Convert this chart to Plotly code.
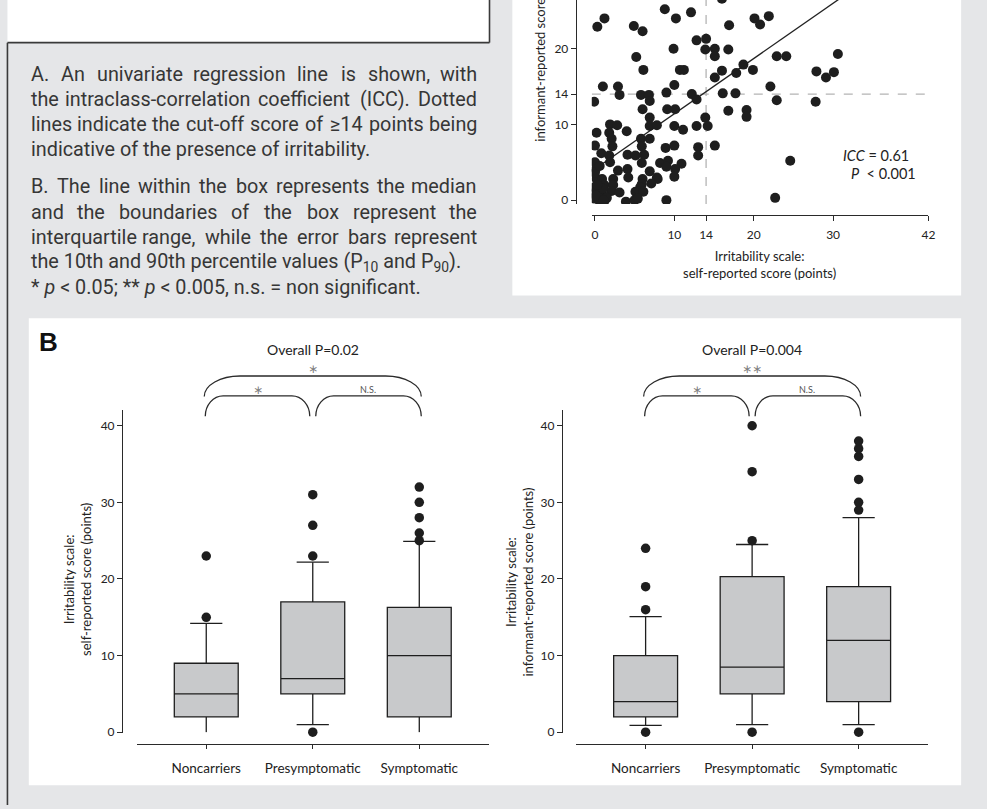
import numpy as np
import plotly.graph_objects as go

W, H = 987, 809


def px(x):
    return x / W


def py(y):
    return 1 - y / H


# ---------------- data ----------------
# Panel A: self-reported (x) vs informant-reported (y) irritability scores
self_score = [8.8, 10.2, 12.1, 16.0, 0.3, 1.2, 4.9, 6.0, 16.9, 20.1, 20.8, 21.9,
              12.8, 14.0, 9.9, 13.9, 15.1, 15.1, 16.8, 5.2, 6.1, 10.7, 11.2, 22.9,
              24.1, 30.6, 18.7, 19.9, 17.8, 16.0, 15.1, 27.9, 29.1, 30.1, 22.1,
              1.0, 2.9, 3.1, -0.1, 5.8, 6.8, 6.9, 9.0, 10.0, 12.2, 12.8, 16.1, 17.7,
              22.9, 27.8, 6.0, 9.1, 10.1, 16.8, 19.1, 19.1, 6.9, 13.9,
              1.9, 2.8, 6.9, 7.8, 10.0, 12.8, 14.2,
              0.2, 1.8, 4.0, 11.1, 2.1, 5.8, 6.9,
              0.0, 2.2, 5.9, 8.9, 10.0, 13.0, 15.1, 13.0,
              0.8, 1.8, 4.1, 5.1, 6.2,
              1.9, 0.0, 0.1, 5.9, 8.2, 9.2, 10.9, 9.0, 10.1, 24.6,
              2.9, 4.1, 6.9, 10.0, 4.2, 7.8, 7.9,
              0.2, 0.9, 2.3, 6.0, 7.1, 5.9,
              -0.1, 1.2, 2.3, 5.7,
              0.1, 0.9, 2.1, 3.1, 5.1, 5.6, 6.1,
              -0.1, 0.5, 1.2, 3.9, 5.0, 5.4, 9.0, 22.7, 0.5,
              0.0, 0.4, 1.0, 0.3, 1.5, 0.6, 0.1, 1.1]
informant_score = [25.2, 24.0, 24.8, 26.6, 22.9, 24.0, 23.0, 22.3, 23.1, 24.0, 23.2, 24.3,
                   21.1, 21.3, 20.0, 19.9, 20.0, 19.0, 19.9, 18.9, 17.2, 17.2, 17.2, 19.0,
                   19.0, 19.3, 17.9, 17.2, 16.8, 17.1, 16.2, 17.0, 16.2, 16.9, 15.0,
                   15.0, 15.0, 13.9, 13.0, 13.9, 13.9, 13.1, 14.2, 15.2, 14.0, 13.3, 14.1, 14.1,
                   13.2, 13.0, 12.0, 12.0, 12.0, 11.8, 11.9, 11.0, 10.9, 10.9,
                   10.0, 9.9, 9.8, 9.9, 9.8, 9.8, 9.8,
                   8.9, 8.9, 9.1, 9.3, 8.1, 8.1, 8.1,
                   7.2, 7.1, 7.1, 6.9, 7.2, 7.0, 7.2, 5.9,
                   6.2, 5.9, 6.0, 5.9, 6.0,
                   5.0, 5.0, 4.1, 4.9, 4.9, 5.2, 4.8, 4.4, 4.1, 5.2,
                   3.9, 4.1, 3.8, 3.1, 3.0, 3.0, 2.8,
                   2.8, 2.8, 2.8, 2.8, 2.2, 2.1,
                   1.7, 2.0, 2.0, 1.7,
                   1.1, 0.9, 1.2, 1.0, 1.1, 1.2, 1.1,
                   0.2, 0.0, -0.1, -0.2, 0.0, 0.2, 0.0, 0.3, 0.7,
                   3.6, 0.4, 1.5, 2.0, 0.3, 4.5, 0.6, 0.0]
reg_intercept = 4.1
reg_slope = 0.73
cutoff = 14
sc_xrange = [-0.4, 42]
sc_yrange = [-0.5, 26.43]
sc_xticks = [0, 10, 14, 20, 30, 42]
sc_yticks = [0, 10, 14, 20, 30, 42]

# Panel B: box plots per group
groups = ["Noncarriers", "Presymptomatic", "Symptomatic"]
self_p10 = [0, 1, 0]
self_q1 = [2, 5, 2]
self_median = [5, 7, 10]
self_q3 = [9, 17, 16.3]
self_p90 = [14.2, 22.2, 24.9]
self_outliers = [[15, 23], [0, 23, 27, 31], [25, 26, 28, 30, 32]]

inf_p10 = [0.9, 1, 1]
inf_q1 = [2, 5, 4]
inf_median = [4, 8.5, 12]
inf_q3 = [10, 20.3, 19]
inf_p90 = [15.1, 24.5, 28]
inf_outliers = [[0, 16, 19, 24], [0, 25, 34, 40], [0, 29, 30, 33, 36, 37, 38]]
box_yticks = [0, 10, 20, 30, 40]

# ---------------- styles ----------------
PAGE = "#e5e6e8"
PLOTBG = "#f0f1f3"
BOXFILL = "#c8c9cb"
INK = "#1e1e1e"
AXIS = "#2a2a2a"
CH_FONT = "Lato"
CAP_FONT = "Roboto"
CAP_SIZE = 19.8

# geometry (pixels)
SC_X, SC_Y = (596, 935), (0, 205.7)
SC_XLINE, SC_YLINE = 217, 580
BL_X, BX_Y = (138, 492), (414, 739)
BR_X = (580.5, 934.5)
BL_YLINE, BR_YLINE = 123, 566
B_XLINE = 750.7
CAT_RANGE = [-0.65, 2.65]

fig = go.Figure()

# ---- Panel A scatter ----
dash = dict(color="#b4b4b4", width=1.3, dash="dash")
fig.add_trace(go.Scatter(x=[cutoff, cutoff], y=sc_yrange, mode="lines", line=dash,
                         xaxis="x", yaxis="y", hoverinfo="skip"))
fig.add_trace(go.Scatter(x=sc_xrange, y=[cutoff, cutoff], mode="lines", line=dash,
                         xaxis="x", yaxis="y", hoverinfo="skip"))
xl = np.array([0, 42])
fig.add_trace(go.Scatter(x=xl, y=reg_intercept + reg_slope * xl, mode="lines",
                         line=dict(color="#222222", width=1.3),
                         xaxis="x", yaxis="y", hoverinfo="skip"))
fig.add_trace(go.Scatter(x=self_score, y=informant_score, mode="markers",
                         marker=dict(color=INK, size=10, line=dict(width=0)),
                         xaxis="x", yaxis="y", cliponaxis=True, hoverinfo="skip"))


# ---- Panel B boxes ----
def add_boxes(xa, ya, p10, q1, med, q3, p90, outliers):
    fig.add_trace(go.Box(x=groups, q1=q1, median=med, q3=q3,
                         lowerfence=p10, upperfence=p90,
                         width=0.6, whiskerwidth=0, boxpoints=False,
                         fillcolor=BOXFILL, line=dict(color=INK, width=1.3),
                         xaxis=xa, yaxis=ya, hoverinfo="skip"))
    cx, cy = [], []
    for g, lo, hi in zip(groups, p10, p90):
        if lo > 0:
            cx.append(g); cy.append(lo)
        cx.append(g); cy.append(hi)
    fig.add_trace(go.Scatter(x=cx, y=cy, mode="markers",
                             marker=dict(symbol="line-ew", size=23,
                                         line=dict(color=INK, width=1.3)),
                             xaxis=xa, yaxis=ya, cliponaxis=False, hoverinfo="skip"))
    ox, oy = [], []
    for g, vals in zip(groups, outliers):
        for v in vals:
            ox.append(g); oy.append(v)
    fig.add_trace(go.Scatter(x=ox, y=oy, mode="markers",
                             marker=dict(color=INK, size=9.5),
                             xaxis=xa, yaxis=ya, cliponaxis=False, hoverinfo="skip"))


add_boxes("x2", "y2", self_p10, self_q1, self_median, self_q3, self_p90, self_outliers)
add_boxes("x3", "y3", inf_p10, inf_q1, inf_median, inf_q3, inf_p90, inf_outliers)

tickfont = dict(family=CH_FONT, size=12, color="#222")
axcommon = dict(showline=True, linecolor=AXIS, linewidth=1.3, ticks="outside",
                ticklen=5, tickwidth=1.2, tickcolor=AXIS, zeroline=False,
                tickfont=tickfont, fixedrange=True)
catfont = dict(family=CH_FONT, size=13.5, color="#222")
cataxis = {**axcommon, "ticklen": 4, "tickfont": catfont, "ticklabelstandoff": 7}

layout = dict(
    width=W, height=H, margin=dict(l=0, r=0, t=0, b=0),
    paper_bgcolor=PAGE, plot_bgcolor=PLOTBG, showlegend=False, hovermode=False,
    xaxis=dict(domain=[px(SC_X[0]), px(SC_X[1])], range=sc_xrange, anchor="free",
               position=py(SC_XLINE), tickvals=sc_xticks, showgrid=True,
               gridcolor="white", gridwidth=1, **{**axcommon, "ticklabelstandoff": 3}),
    yaxis=dict(domain=[py(SC_Y[1]), py(SC_Y[0])], range=sc_yrange, anchor="free",
               position=px(SC_YLINE), tickvals=sc_yticks, showgrid=True,
               gridcolor="white", gridwidth=1, **axcommon),
    xaxis2=dict(domain=[px(BL_X[0]), px(BL_X[1])], range=CAT_RANGE, type="category",
                categoryorder="array", categoryarray=groups, anchor="free",
                position=py(B_XLINE), showgrid=False, **cataxis),
    yaxis2=dict(domain=[py(BX_Y[1]), py(BX_Y[0])], range=[-0.05, 42], anchor="free",
                position=px(BL_YLINE), tickvals=box_yticks, showgrid=True,
                gridcolor="white", gridwidth=1, **axcommon),
    xaxis3=dict(domain=[px(BR_X[0]), px(BR_X[1])], range=CAT_RANGE, type="category",
                categoryorder="array", categoryarray=groups, anchor="free",
                position=py(B_XLINE), showgrid=False, **cataxis),
    yaxis3=dict(domain=[py(BX_Y[1]), py(BX_Y[0])], range=[-0.05, 42], anchor="free",
                position=px(BR_YLINE), tickvals=box_yticks, showgrid=True,
                gridcolor="white", gridwidth=1, **axcommon),
)
fig.update_layout(**layout)

shapes = []
# background panels
shapes.append(dict(type="rect", xref="paper", yref="paper", x0=px(7.5), x1=px(493),
                   y0=py(43), y1=py(-3), fillcolor="white", line=dict(width=0), layer="below"))
shapes.append(dict(type="rect", xref="paper", yref="paper", x0=px(516), x1=px(968),
                   y0=py(298), y1=py(-3), fillcolor="white", line=dict(width=0), layer="below"))
shapes.append(dict(type="rect", xref="paper", yref="paper", x0=px(29), x1=px(968),
                   y0=py(792), y1=py(321), fillcolor="white", line=dict(width=0), layer="below"))
frame = dict(color="#3a3a3a", width=1.6)
for (x0, y0, x1, y1) in [(7.5, 43, 493, 43), (493, -3, 493, 43), (7.5, 43, 7.5, 812)]:
    shapes.append(dict(type="line", xref="paper", yref="paper", x0=px(x0), x1=px(x1),
                       y0=py(y0), y1=py(y1), line=frame, layer="below"))


def cat_px(dom, i):
    return dom[0] + (i - CAT_RANGE[0]) / (CAT_RANGE[1] - CAT_RANGE[0]) * (dom[1] - dom[0])


def bracket(xa, xb, yb, yt, rx):
    k = 0.552
    ry = yb - yt
    pts = [
        f"M{px(xa):.5f},{py(yb):.5f}",
        f"C{px(xa):.5f},{py(yb - k * ry):.5f} {px(xa + rx - k * rx):.5f},{py(yt):.5f} "
        f"{px(xa + rx):.5f},{py(yt):.5f}",
        f"L{px(xb - rx):.5f},{py(yt):.5f}",
        f"C{px(xb - rx + k * rx):.5f},{py(yt):.5f} {px(xb):.5f},{py(yb - k * ry):.5f} "
        f"{px(xb):.5f},{py(yb):.5f}",
    ]
    return dict(type="path", xref="paper", yref="paper", path=" ".join(pts),
                line=dict(color="#2a2a2a", width=1.3), layer="above")


annotations = []


def ann(x, y, text, size, color="#222", family=CH_FONT, xanchor="center", angle=0, **kw):
    annotations.append(dict(x=px(x), y=py(y), xref="paper", yref="paper", text=text,
                            showarrow=False, xanchor=xanchor, yanchor="middle",
                            textangle=angle, font=dict(family=family, size=size, color=color),
                            **kw))


panels = [
    (BL_X, "Overall P=0.02", "\u2217", "\u2217", "N.S."),
    (BR_X, "Overall P=0.004", "\u2217\u2217", "\u2217", "N.S."),
]
for dom, title, big, s1, s2 in panels:
    c = [cat_px(dom, i) for i in range(3)]
    shapes.append(bracket(c[0] - 2, c[2] + 2, 400, 379.3, 36))
    shapes.append(bracket(c[0] - 1, c[1] - 3, 420, 399.3, 18))
    shapes.append(bracket(c[1] + 3, c[2] + 2, 420, 399.3, 18))
    ann((c[0] + c[2]) / 2, 352.5, title, 14)
    ann((c[0] + c[2]) / 2, 372.5, big, 12, color="#808080", family="DejaVu Sans")
    ann((c[0] + c[1]) / 2 - 2, 393.5, s1, 12, color="#808080", family="DejaVu Sans")
    ann((c[1] + c[2]) / 2 + 2, 392.7, s2, 9, color="#555")

# axis titles and inline labels
ann(765, 267, "Irritability scale:<br>self-reported score (points)", 13)
ann(543, 48, "informant-reported score (points)", 13, angle=-90)
ann(78.5, 584, "Irritability scale:<br>self-reported score (points)", 13, angle=-90)
ann(523.3, 587, "Irritability scale:<br>informant-reported score (points)", 13, angle=-90)
ann(918, 157.3, "<i>ICC</i> = 0.61", 14.5, xanchor="right")
ann(925, 175, "<i>P</i>\u00a0\u00a0&lt; 0.001", 14.5, xanchor="right")
ann(48.5, 345, "<b>B</b>", 26, color="#111", family="Liberation Sans")

# ---- caption text: justified lines laid out word by word ----
ROBOTO_W = {" ": 507, "a": 1088, "b": 1120, "c": 1045, "d": 1126, "e": 1058, "f": 693,
            "g": 1120, "h": 1101, "i": 486, "j": 477, "k": 1013, "l": 486, "m": 1752,
            "n": 1104, "o": 1140, "p": 1120, "q": 1126, "r": 677, "s": 1031, "t": 654,
            "u": 1100, "v": 967, "w": 1502, "x": 991, "y": 945, "z": 991, "A": 1336,
            "B": 1275, "C": 1333, "D": 1343, "I": 557, "P": 1292, "T": 1222, ".": 527,
            ",": 393, "-": 553, "(": 684, ")": 695, "≥": 1100}


def tw(s):
    return sum(ROBOTO_W.get(ch, 1150) for ch in s) / 2048 * CAP_SIZE


CAP_L, CAP_R = 30.7, 481
caption = [
    (75, "A. An univariate regression line is shown, with", True),
    (100, "the intraclass-correlation coefficient (ICC). Dotted", True),
    (126, "lines indicate the cut-off score of ≥14 points being", True),
    (151, "indicative of the presence of irritability.", False),
    (188.3, "B. The line within the box represents the median", True),
    (214.3, "and the boundaries of the box represent the", True),
    (239.3, "interquartile range, while the error bars represent", True),
    (264.3, "the 10th and 90th percentile values (P<sub>10</sub> and P<sub>90</sub>).", False),
    (290, "* <i>p</i> &lt; 0.05; ** <i>p</i> &lt; 0.005, n.s. = non significant.", False),
]
capstyle = dict(color="#363636", family=CAP_FONT, borderpad=0)
for y, line, justify in caption:
    if not justify:
        ann(CAP_L, y, line, CAP_SIZE, xanchor="left", **capstyle)
        continue
    words = line.split(" ")
    widths = [tw(w) for w in words]
    gap = (CAP_R - CAP_L - sum(widths)) / (len(words) - 1)
    x = CAP_L
    last = len(words) - 1
    for j, (w, wd) in enumerate(zip(words, widths)):
        if j == 0:
            ann(CAP_L, y, w, CAP_SIZE, xanchor="left", **capstyle)
        elif j == last:
            ann(CAP_R, y, w, CAP_SIZE, xanchor="right", **capstyle)
        else:
            ann(x + wd / 2, y, w, CAP_SIZE, xanchor="center", **capstyle)
        x += wd + gap

fig.update_layout(shapes=shapes, annotations=annotations)
fig.write_html("out.html", config={"displayModeBar": False},
               post_script="document.body.style.margin='0px';")
